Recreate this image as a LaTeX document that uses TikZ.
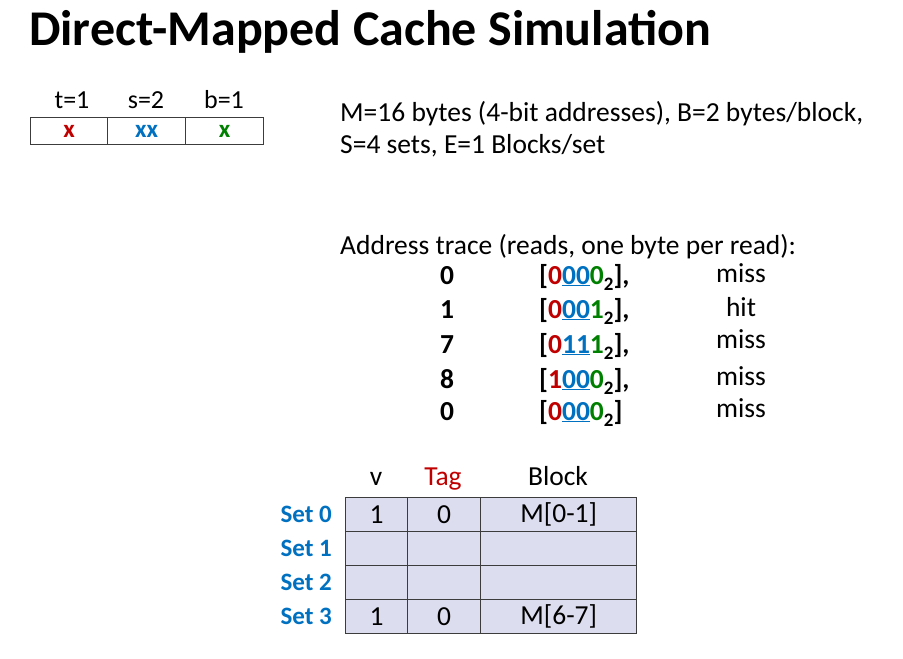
\documentclass[tikz,border=0pt]{standalone}
\usepackage{fontspec}
\setmainfont{Carlito}
\definecolor{cred}{RGB}{192,0,0}
\definecolor{cblue}{RGB}{0,112,192}
\definecolor{cgreen}{RGB}{0,128,0}
\definecolor{cfill}{RGB}{221,221,240}
\definecolor{cline}{RGB}{60,60,60}
\tikzset{
  txt/.style={anchor=base,inner sep=0pt,font=\fontsize{27.5}{32}\selectfont},
  btxt/.style={anchor=base,inner sep=0pt,font=\fontsize{27.5}{32}\selectfont\bfseries},
  lbl/.style={anchor=base,inner sep=0pt,font=\fontsize{26}{30}\selectfont},
  bitcell/.style={draw=cline,line width=1.3pt,minimum height=27pt,inner sep=0pt,anchor=north west,font=\fontsize{25}{28}\selectfont\bfseries},
  cachecell/.style={draw=cline,line width=1.4pt,fill=cfill,minimum height=34pt,inner sep=0pt,anchor=north west,font=\fontsize{27.5}{32}\selectfont},
  setlbl/.style={anchor=base east,inner sep=0pt,text=cblue,font=\fontsize{25}{29}\selectfont\bfseries},
}
\newcommand{\addr}[4]{[\textcolor{cred}{#1}\textcolor{cblue}{\underline{#2#3}}\textcolor{cgreen}{#4}\raisebox{-0.22em}{\fontsize{19}{20}\selectfont 2}]}
\begin{document}
\begin{tikzpicture}[x=1pt,y=-1pt]
\useasboundingbox (0,0) rectangle (903,659);
% title
\node[anchor=base west,inner sep=0pt,font=\fontsize{50}{56}\selectfont\bfseries] (title) at (29,45) {Direct-Mapped Cache Simulation};
% address bit fields
\node[lbl] (tl) at (72,108) {t=1};
\node[lbl] (sl) at (146,108) {s=2};
\node[lbl] (bl) at (224,108) {b=1};
\node[bitcell,minimum width=77pt,text=cred] (tc) at (30,117) {x};
\node[bitcell,minimum width=78pt,text=cblue] (sc) at (107,117) {xx};
\node[bitcell,minimum width=78pt,text=cgreen] (bc) at (185,117) {x};
% parameters
\node[txt,anchor=base west] (p1) at (340,121) {M=16 bytes (4-bit addresses), B=2 bytes/block,};
\node[txt,anchor=base west] (p2) at (340,153) {S=4 sets, E=1 Blocks/set};
% trace
\node[txt,anchor=base west] (tr) at (340,254) {Address trace (reads, one byte per read):};
\node[btxt] (numa) at (447,284) {0};
\node[btxt] (numb) at (447,318) {1};
\node[btxt] (numc) at (447,353) {7};
\node[btxt] (numd) at (447,388) {8};
\node[btxt] (nume) at (447,420) {0};
\node[btxt,anchor=base west] (adra) at (539,284) {\addr{0}{0}{0}{0},};
\node[btxt,anchor=base west] (adrb) at (539,318) {\addr{0}{0}{0}{1},};
\node[btxt,anchor=base west] (adrc) at (539,353) {\addr{0}{1}{1}{1},};
\node[btxt,anchor=base west] (adrd) at (539,388) {\addr{1}{0}{0}{0},};
\node[btxt,anchor=base west] (adre) at (539,420) {\addr{0}{0}{0}{0}};
\node[txt] (resa) at (741,282) {miss};
\node[txt] (resb) at (741,316) {hit};
\node[txt] (resc) at (741,348) {miss};
\node[txt] (resd) at (741,385) {miss};
\node[txt] (rese) at (741,417) {miss};
% cache table
\node[txt] (hv) at (376,485) {v};
\node[txt,text=cred] (ht) at (443,485) {Tag};
\node[txt] (hb) at (558,485) {Block};
\foreach \i/\y/\v/\t/\bl in {0/497/1/0/M[0-1], 1/531/ / / , 2/565/ / / , 3/599/1/0/M[6-7]}{
  \node[cachecell,minimum width=62pt] (v\i) at (345,\y) {\v};
  \node[cachecell,minimum width=73pt] (t\i) at (407,\y) {\t};
  \node[cachecell,minimum width=156pt] (b\i) at (480,\y) {\bl};
  \node[setlbl] (s\i) at (332,\y+25) {Set \i};
}
\end{tikzpicture}
\end{document}
